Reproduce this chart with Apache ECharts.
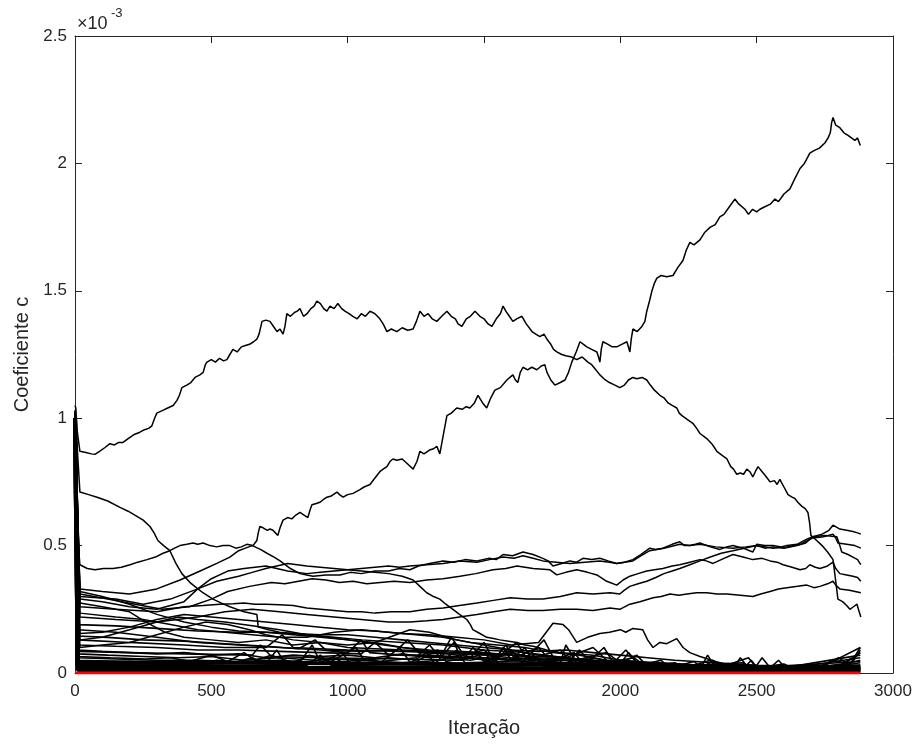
<!DOCTYPE html>
<html>
<head>
<meta charset="utf-8">
<script src="https://cdn.jsdelivr.net/npm/echarts@6/dist/echarts.min.js"></script>
<style>html,body{margin:0;padding:0;background:#fff}#c{width:920px;height:744px}</style>
</head>
<body>
<div id="c"></div>
<script>
// values in units of 1e-3 ; x = iteration
const xTicks = [0, 500, 1000, 1500, 2000, 2500, 3000];
const yTicks = [0, 0.5, 1, 1.5, 2, 2.5];

const lineA = [[0,1.05],[3,1.04],[8,0.95],[18,0.87],[40,0.865],[60,0.86],[73,0.858],[90,0.87],[110,0.885],[128,0.90],[145,0.895],[160,0.905],[176,0.905],[195,0.92],[215,0.935],[238,0.945],[255,0.955],[270,0.96],[282,0.97],[292,1.00],[300,1.02],[320,1.03],[340,1.04],[360,1.05],[374,1.07],[383,1.09],[392,1.12],[410,1.13],[425,1.14],[440,1.16],[458,1.17],[470,1.18],[478,1.21],[484,1.22],[500,1.23],[515,1.22],[530,1.235],[545,1.225],[557,1.23],[568,1.25],[579,1.27],[595,1.26],[610,1.28],[625,1.285],[640,1.29],[655,1.30],[667,1.31],[675,1.33],[686,1.38],[700,1.385],[715,1.38],[728,1.36],[741,1.34],[752,1.35],[763,1.33],[770,1.36],[777,1.41],[790,1.40],[805,1.415],[815,1.42],[825,1.43],[838,1.40],[851,1.41],[865,1.43],[877,1.44],[887,1.46],[900,1.45],[912,1.43],[924,1.42],[935,1.44],[950,1.43],[964,1.45],[978,1.43],[990,1.42],[1005,1.41],[1019,1.40],[1035,1.39],[1050,1.41],[1065,1.40],[1082,1.42],[1100,1.41],[1118,1.39],[1130,1.37],[1144,1.34],[1160,1.35],[1180,1.34],[1200,1.355],[1220,1.345],[1240,1.35],[1252,1.38],[1265,1.42],[1280,1.40],[1295,1.41],[1310,1.39],[1327,1.38],[1345,1.40],[1364,1.42],[1380,1.40],[1395,1.39],[1405,1.37],[1419,1.36],[1435,1.39],[1450,1.40],[1467,1.42],[1485,1.40],[1500,1.39],[1515,1.37],[1529,1.36],[1545,1.39],[1560,1.41],[1570,1.44],[1580,1.42],[1593,1.40],[1606,1.38],[1620,1.39],[1639,1.40],[1655,1.37],[1676,1.34],[1690,1.33],[1705,1.32],[1720,1.33],[1731,1.31],[1745,1.29],[1755,1.27],[1767,1.26],[1785,1.25],[1800,1.245],[1822,1.24],[1840,1.23],[1860,1.24],[1881,1.22],[1895,1.21],[1910,1.19],[1925,1.17],[1945,1.15],[1960,1.14],[1980,1.13],[1998,1.12],[2015,1.13],[2030,1.15],[2046,1.16],[2060,1.155],[2080,1.16],[2097,1.15],[2110,1.13],[2125,1.11],[2145,1.09],[2160,1.08],[2175,1.06],[2190,1.05],[2207,1.04],[2216,1.02],[2226,1.01],[2245,0.995],[2266,0.98],[2280,0.96],[2292,0.94],[2305,0.93],[2317,0.92],[2335,0.90],[2345,0.885],[2354,0.87],[2372,0.855],[2391,0.84],[2405,0.81],[2415,0.80],[2427,0.78],[2440,0.785],[2452,0.78],[2464,0.80],[2475,0.79],[2486,0.77],[2495,0.79],[2505,0.81],[2520,0.79],[2535,0.77],[2549,0.75],[2565,0.755],[2575,0.74],[2585,0.76],[2600,0.73],[2615,0.70],[2630,0.69],[2640,0.685],[2651,0.67],[2665,0.655],[2678,0.645],[2688,0.63],[2694,0.59],[2699,0.54],[2720,0.52],[2740,0.50],[2760,0.475],[2780,0.445],[2790,0.36],[2798,0.29],[2815,0.28],[2830,0.265],[2842,0.25],[2855,0.26],[2868,0.27],[2876,0.24],[2882,0.22]];
const lineB = [[0,1.03],[5,0.60],[18,0.425],[45,0.41],[73,0.405],[105,0.41],[139,0.41],[170,0.415],[202,0.425],[230,0.435],[264,0.445],[295,0.455],[323,0.47],[348,0.48],[365,0.49],[385,0.50],[410,0.505],[433,0.51],[450,0.505],[470,0.51],[495,0.50],[520,0.495],[543,0.50],[568,0.50],[590,0.49],[610,0.495],[630,0.505],[653,0.50],[660,0.51],[667,0.52],[672,0.55],[678,0.575],[690,0.57],[705,0.56],[715,0.565],[726,0.56],[735,0.55],[744,0.54],[752,0.57],[763,0.60],[780,0.61],[795,0.605],[810,0.62],[825,0.63],[840,0.62],[854,0.61],[862,0.64],[869,0.66],[885,0.665],[898,0.67],[910,0.68],[924,0.69],[940,0.695],[961,0.71],[970,0.70],[983,0.69],[1000,0.70],[1020,0.705],[1045,0.72],[1060,0.73],[1082,0.74],[1100,0.765],[1118,0.79],[1130,0.80],[1144,0.81],[1155,0.83],[1166,0.84],[1180,0.835],[1200,0.84],[1220,0.82],[1240,0.80],[1254,0.83],[1265,0.87],[1280,0.86],[1300,0.875],[1315,0.88],[1327,0.89],[1338,0.86],[1350,0.93],[1364,1.01],[1380,1.02],[1400,1.04],[1420,1.035],[1435,1.045],[1448,1.04],[1465,1.06],[1478,1.09],[1495,1.06],[1510,1.04],[1525,1.08],[1540,1.11],[1560,1.12],[1584,1.15],[1595,1.16],[1606,1.17],[1615,1.15],[1624,1.14],[1633,1.18],[1643,1.20],[1660,1.19],[1675,1.20],[1694,1.19],[1710,1.205],[1723,1.21],[1731,1.18],[1745,1.15],[1760,1.13],[1780,1.14],[1797,1.15],[1810,1.18],[1822,1.22],[1838,1.26],[1852,1.30],[1865,1.29],[1877,1.28],[1895,1.27],[1914,1.26],[1920,1.24],[1925,1.22],[1930,1.27],[1936,1.30],[1955,1.29],[1970,1.28],[1987,1.28],[2005,1.29],[2024,1.30],[2035,1.26],[2040,1.31],[2046,1.35],[2062,1.34],[2079,1.36],[2090,1.38],[2097,1.42],[2107,1.46],[2116,1.50],[2125,1.53],[2134,1.55],[2150,1.56],[2170,1.555],[2193,1.56],[2210,1.59],[2230,1.62],[2242,1.66],[2255,1.69],[2270,1.68],[2292,1.70],[2310,1.73],[2330,1.75],[2348,1.76],[2365,1.79],[2380,1.80],[2400,1.83],[2420,1.86],[2435,1.84],[2457,1.82],[2470,1.80],[2485,1.82],[2500,1.81],[2512,1.82],[2530,1.83],[2550,1.84],[2567,1.86],[2580,1.85],[2600,1.88],[2622,1.90],[2640,1.94],[2659,1.98],[2675,2.00],[2695,2.04],[2710,2.05],[2730,2.06],[2750,2.08],[2762,2.10],[2770,2.12],[2775,2.16],[2780,2.18],[2790,2.15],[2805,2.14],[2820,2.12],[2835,2.11],[2842,2.11],[2860,2.09],[2870,2.10],[2880,2.07]];
const lineC = [[0,1.03],[18,0.71],[50,0.70],[81,0.69],[120,0.675],[165,0.65],[195,0.635],[227,0.615],[250,0.60],[275,0.575],[290,0.55],[304,0.52],[325,0.50],[348,0.48],[370,0.43],[392,0.39],[422,0.355],[445,0.335],[469,0.315],[506,0.29],[535,0.275],[568,0.26],[620,0.24],[667,0.23],[672,0.18],[710,0.17],[750,0.16],[800,0.155],[850,0.15],[925,0.14],[1000,0.13],[1100,0.115],[1200,0.10],[1300,0.085],[1400,0.07],[1500,0.06],[1600,0.05],[1800,0.03],[2000,0.02],[2400,0.01],[2880,0.005]];
const lineG = [[0,1.02],[18,0.33],[100,0.32],[200,0.31],[300,0.33],[385,0.365],[469,0.405],[520,0.43],[568,0.455],[600,0.48],[625,0.49],[650,0.50],[680,0.485],[704,0.47],[730,0.455],[752,0.44],[790,0.41],[825,0.39],[850,0.385],[873,0.38],[920,0.385],[972,0.385],[1010,0.395],[1050,0.39],[1100,0.40],[1150,0.40],[1190,0.41],[1228,0.405],[1260,0.42],[1300,0.43],[1350,0.44],[1390,0.435],[1430,0.445],[1474,0.44],[1520,0.45],[1545,0.445],[1570,0.465],[1605,0.46],[1643,0.475],[1680,0.465],[1716,0.45],[1735,0.44],[1753,0.42],[1785,0.43],[1815,0.44],[1840,0.435],[1863,0.45],[1895,0.445],[1925,0.45],[1955,0.44],[1987,0.43],[2015,0.435],[2046,0.445],[2075,0.465],[2108,0.49],[2130,0.485],[2156,0.49],[2190,0.505],[2218,0.515],[2235,0.50],[2255,0.50],[2275,0.505],[2292,0.51],[2330,0.495],[2365,0.485],[2390,0.495],[2413,0.50],[2450,0.49],[2486,0.475],[2500,0.505],[2530,0.50],[2560,0.50],[2590,0.495],[2611,0.50],[2648,0.505],[2684,0.525],[2706,0.535],[2740,0.545],[2765,0.56],[2780,0.58],[2805,0.565],[2830,0.56],[2853,0.555],[2870,0.55],[2882,0.545]];
const lineI = [[0,1.02],[18,0.30],[150,0.29],[250,0.27],[350,0.29],[450,0.33],[520,0.36],[600,0.38],[650,0.395],[700,0.41],[740,0.42],[780,0.43],[850,0.42],[900,0.415],[950,0.41],[1000,0.405],[1050,0.40],[1100,0.395],[1150,0.39],[1200,0.38],[1240,0.365],[1265,0.34],[1290,0.315],[1315,0.30],[1338,0.29],[1360,0.27],[1386,0.25],[1410,0.23],[1437,0.21],[1450,0.19],[1459,0.17],[1485,0.155],[1510,0.14],[1535,0.135],[1558,0.13],[1590,0.125],[1621,0.12],[1650,0.11],[1680,0.105],[1730,0.09],[1778,0.08],[1840,0.075],[1900,0.07],[2000,0.05],[2100,0.04],[2200,0.03],[2350,0.025],[2500,0.02],[2700,0.02],[2880,0.02]];
const lineE4 = [[0,1.02],[18,0.31],[120,0.29],[220,0.27],[320,0.25],[420,0.26],[500,0.29],[560,0.32],[640,0.34],[720,0.355],[770,0.35],[820,0.36],[870,0.37],[920,0.365],[970,0.355],[1020,0.36],[1070,0.35],[1120,0.355],[1170,0.36],[1228,0.355],[1290,0.365],[1350,0.37],[1412,0.38],[1470,0.39],[1533,0.405],[1580,0.41],[1621,0.42],[1680,0.41],[1742,0.405],[1767,0.385],[1800,0.395],[1840,0.405],[1880,0.395],[1914,0.385],[1950,0.36],[1987,0.345],[2010,0.365],[2035,0.38],[2065,0.39],[2097,0.40],[2125,0.405],[2156,0.41],[2190,0.42],[2218,0.425],[2255,0.435],[2292,0.445],[2315,0.44],[2340,0.43],[2380,0.45],[2413,0.465],[2450,0.455],[2486,0.445],[2520,0.45],[2549,0.44],[2575,0.435],[2597,0.425],[2630,0.415],[2659,0.405],[2680,0.41],[2695,0.425],[2715,0.415],[2732,0.41],[2760,0.42],[2780,0.435],[2790,0.41],[2805,0.39],[2830,0.385],[2853,0.38],[2870,0.375],[2882,0.36]];
const lineF = [[0,1.02],[18,0.26],[150,0.25],[300,0.24],[400,0.26],[470,0.265],[532,0.27],[580,0.272],[620,0.275],[660,0.27],[700,0.27],[750,0.268],[800,0.265],[850,0.255],[900,0.25],[950,0.245],[1000,0.24],[1050,0.24],[1100,0.235],[1160,0.24],[1228,0.24],[1290,0.25],[1350,0.255],[1410,0.265],[1474,0.275],[1535,0.285],[1596,0.295],[1660,0.29],[1716,0.29],[1780,0.30],[1840,0.315],[1900,0.31],[1962,0.315],[1998,0.31],[2015,0.325],[2035,0.34],[2065,0.35],[2097,0.36],[2130,0.375],[2160,0.39],[2190,0.40],[2218,0.41],[2255,0.425],[2292,0.44],[2330,0.455],[2370,0.47],[2413,0.48],[2455,0.49],[2500,0.50],[2530,0.49],[2560,0.495],[2600,0.49],[2648,0.50],[2680,0.51],[2706,0.535],[2750,0.54],[2794,0.535],[2805,0.50],[2812,0.475],[2835,0.465],[2853,0.455],[2870,0.445],[2882,0.425]];
const lineE2 = [[0,1.02],[18,0.29],[100,0.28],[200,0.26],[300,0.25],[400,0.28],[450,0.33],[500,0.37],[560,0.40],[620,0.41],[660,0.415],[700,0.42],[740,0.41],[780,0.40],[850,0.39],[900,0.395],[950,0.40],[1000,0.405],[1050,0.41],[1100,0.415],[1150,0.42],[1190,0.415],[1228,0.42],[1290,0.425],[1350,0.43],[1410,0.44],[1474,0.435],[1520,0.445],[1570,0.455],[1610,0.45],[1643,0.46],[1680,0.45],[1716,0.44],[1765,0.435],[1815,0.43],[1870,0.435],[1925,0.44],[1960,0.435],[1987,0.43],[2015,0.435],[2046,0.44],[2075,0.46],[2108,0.48],[2160,0.49],[2218,0.505],[2255,0.50],[2292,0.505],[2350,0.495],[2413,0.49],[2460,0.495],[2500,0.50],[2560,0.49],[2611,0.495],[2660,0.505],[2706,0.53],[2745,0.535],[2780,0.545],[2790,0.53],[2798,0.51],[2830,0.505],[2860,0.50],[2882,0.49]];
const lineE5 = [[0,1.02],[18,0.22],[150,0.21],[300,0.20],[450,0.22],[550,0.24],[650,0.25],[750,0.24],[850,0.23],[950,0.22],[1050,0.21],[1150,0.20],[1228,0.20],[1290,0.205],[1350,0.21],[1410,0.22],[1474,0.23],[1535,0.24],[1596,0.25],[1660,0.245],[1716,0.245],[1780,0.25],[1840,0.25],[1900,0.245],[1962,0.255],[1998,0.25],[2035,0.27],[2072,0.28],[2120,0.295],[2150,0.30],[2182,0.31],[2215,0.305],[2244,0.31],[2280,0.315],[2317,0.315],[2355,0.31],[2391,0.31],[2440,0.305],[2486,0.30],[2515,0.31],[2549,0.32],[2580,0.33],[2611,0.335],[2650,0.34],[2684,0.345],[2710,0.335],[2732,0.34],[2760,0.35],[2780,0.36],[2790,0.345],[2805,0.33],[2840,0.325],[2882,0.315]];
const lineL1 = [[0,1.0],[18,0.32],[100,0.30],[200,0.27],[300,0.23],[400,0.20],[500,0.18],[600,0.165],[700,0.16],[800,0.15],[900,0.14],[1000,0.13],[1100,0.12],[1228,0.17],[1300,0.16],[1400,0.13],[1500,0.11],[1600,0.09],[1700,0.07],[1900,0.05],[2200,0.03],[2500,0.02],[2880,0.015]];
const lineL2 = [[0,1.0],[18,0.275],[100,0.26],[200,0.24],[260,0.20],[330,0.16],[400,0.14],[500,0.13],[600,0.12],[700,0.13],[800,0.11],[900,0.12],[1000,0.10],[1200,0.09],[1400,0.08],[1600,0.06],[1800,0.05],[2000,0.04],[2400,0.02],[2880,0.01]];
const lineL3 = [[0,1.0],[18,0.155],[100,0.16],[200,0.18],[300,0.21],[400,0.23],[500,0.22],[600,0.21],[700,0.20],[800,0.19],[900,0.18],[1000,0.17],[1100,0.165],[1200,0.155],[1300,0.15],[1400,0.14],[1500,0.13],[1600,0.11],[1700,0.12],[1753,0.195],[1790,0.19],[1810,0.17],[1840,0.12],[1880,0.14],[1925,0.155],[1960,0.16],[2000,0.17],[2020,0.16],[2046,0.175],[2082,0.17],[2100,0.13],[2120,0.10],[2145,0.12],[2170,0.115],[2207,0.135],[2230,0.10],[2255,0.08],[2292,0.065],[2350,0.045],[2400,0.03],[2600,0.02],[2880,0.02]];
const lineL4 = [[0,1.0],[18,0.13],[100,0.14],[200,0.17],[300,0.20],[380,0.22],[450,0.21],[550,0.20],[650,0.185],[750,0.17],[850,0.15],[950,0.14],[1050,0.13],[1200,0.12],[1350,0.11],[1500,0.09],[1650,0.08],[1800,0.06],[2000,0.04],[2400,0.02],[2880,0.01]];
const lineL5 = [[0,1.0],[18,0.10],[100,0.11],[200,0.12],[300,0.15],[400,0.18],[480,0.20],[560,0.19],[640,0.17],[700,0.15],[800,0.13],[900,0.12],[1000,0.11],[1100,0.12],[1200,0.10],[1300,0.09],[1500,0.08],[1700,0.06],[1900,0.05],[2100,0.03],[2500,0.02],[2880,0.02]];
const lineL6 = [[0,1.0],[18,0.235],[150,0.22],[250,0.21],[350,0.19],[450,0.17],[550,0.16],[650,0.15],[750,0.14],[850,0.14],[950,0.16],[1050,0.17],[1150,0.16],[1250,0.15],[1350,0.14],[1450,0.12],[1550,0.11],[1650,0.10],[1750,0.08],[1850,0.07],[1950,0.05],[2100,0.04],[2300,0.03],[2880,0.02]];
const lineN1 = [[0,1.0],[10,0.09],[100,0.085],[200,0.08],[300,0.075],[400,0.08],[500,0.07],[600,0.075],[700,0.06],[800,0.07],[900,0.065],[1000,0.07],[1100,0.06],[1200,0.075],[1300,0.06],[1400,0.065],[1500,0.09],[1540,0.06],[1600,0.08],[1700,0.05],[1800,0.06],[1900,0.04],[2000,0.05],[2200,0.03],[2400,0.035],[2600,0.02],[2800,0.03],[2880,0.05]];
const lineN2 = [[0,1.0],[10,0.075],[120,0.07],[250,0.065],[380,0.06],[500,0.065],[620,0.05],[750,0.06],[880,0.05],[1000,0.055],[1120,0.045],[1250,0.06],[1300,0.11],[1340,0.06],[1450,0.05],[1560,0.07],[1620,0.12],[1660,0.05],[1800,0.04],[1950,0.08],[2000,0.04],[2200,0.02],[2500,0.03],[2520,0.06],[2550,0.02],[2800,0.02],[2880,0.08]];
const lineN3 = [[0,1.0],[10,0.06],[150,0.055],[300,0.05],[450,0.05],[600,0.045],[750,0.05],[900,0.04],[1050,0.05],[1200,0.04],[1350,0.05],[1400,0.09],[1430,0.04],[1580,0.045],[1700,0.10],[1750,0.04],[1900,0.03],[2050,0.06],[2100,0.02],[2300,0.02],[2340,0.05],[2380,0.015],[2600,0.015],[2880,0.06]];
const lineN4 = [[0,1.0],[10,0.05],[200,0.045],[400,0.04],[600,0.04],[800,0.035],[950,0.06],[1000,0.03],[1200,0.035],[1500,0.03],[1520,0.08],[1560,0.03],[1800,0.03],[1850,0.09],[1900,0.03],[2100,0.02],[2400,0.01],[2700,0.01],[2880,0.04]];
const lineN5 = [[0,1.0],[10,0.04],[300,0.035],[600,0.03],[850,0.03],[900,0.07],[940,0.03],[1150,0.025],[1450,0.025],[1650,0.03],[1680,0.07],[1720,0.025],[2000,0.02],[2450,0.015],[2480,0.05],[2510,0.01],[2880,0.03]];
const lineN6 = [[0,1.0],[10,0.03],[400,0.025],[800,0.02],[1200,0.02],[1600,0.02],[2000,0.015],[2400,0.01],[2880,0.02]];
const lineN7 = [[0,1.0],[10,0.02],[500,0.015],[1000,0.012],[1500,0.012],[2000,0.01],[2500,0.008],[2880,0.01]];
const lineN8 = [[0,1.0],[10,0.012],[800,0.008],[1600,0.006],[2400,0.005],[2880,0.006]];
const lineN9 = [[0,1.0],[10,0.11],[150,0.105],[300,0.10],[450,0.09],[600,0.09],[750,0.085],[900,0.08],[1050,0.075],[1100,0.12],[1150,0.07],[1300,0.07],[1450,0.06],[1500,0.12],[1530,0.06],[1650,0.05],[1780,0.09],[1820,0.04],[2000,0.03],[2200,0.025],[2450,0.04],[2470,0.015],[2700,0.02],[2850,0.04],[2880,0.09]];
const lineN10 = [[0,1.0],[10,0.13],[200,0.12],[400,0.11],[550,0.10],[700,0.10],[760,0.15],[800,0.10],[1000,0.09],[1200,0.085],[1350,0.08],[1380,0.14],[1420,0.08],[1600,0.07],[1800,0.06],[1900,0.10],[1950,0.05],[2150,0.04],[2300,0.03],[2320,0.07],[2350,0.02],[2600,0.02],[2880,0.07]];
const lineN11 = [[0,1.0],[10,0.17],[150,0.16],[300,0.14],[450,0.12],[600,0.11],[750,0.10],[900,0.09],[1000,0.08],[1050,0.13],[1080,0.08],[1200,0.07],[1400,0.06],[1600,0.05],[1650,0.10],[1680,0.04],[1900,0.035],[2100,0.03],[2400,0.02],[2880,0.03]];
const lineN12 = [[0,1.0],[10,0.19],[150,0.185],[300,0.175],[450,0.165],[600,0.16],[700,0.16],[800,0.155],[900,0.15],[1000,0.15],[1100,0.14],[1200,0.13],[1300,0.12],[1400,0.11],[1500,0.10],[1600,0.09],[1700,0.085],[1800,0.09],[1900,0.08],[2000,0.07],[2100,0.06],[2200,0.05],[2500,0.03],[2880,0.02]];
const lineN13 = [[0,1.0],[10,0.145],[120,0.14],[250,0.13],[400,0.125],[550,0.115],[700,0.105],[820,0.095],[880,0.13],[920,0.09],[1050,0.085],[1180,0.09],[1220,0.13],[1260,0.08],[1400,0.075],[1550,0.07],[1580,0.11],[1610,0.06],[1750,0.05],[1980,0.045],[2020,0.09],[2060,0.04],[2300,0.03],[2600,0.025],[2750,0.03],[2880,0.1]];
const lineN14 = [[0,1.0],[10,0.085],[200,0.08],[400,0.075],[650,0.07],[680,0.11],[720,0.065],[900,0.06],[1200,0.055],[1420,0.05],[1460,0.10],[1500,0.045],[1850,0.04],[2200,0.03],[2420,0.025],[2440,0.06],[2470,0.02],[2880,0.045]];
const lineN15 = [[0,1.0],[10,0.042],[600,0.04],[1200,0.036],[1800,0.032],[2200,0.026],[2600,0.02],[2880,0.026]];
const lineS1 = [[0,1.0],[10,0.045],[100,0.04],[200,0.045],[300,0.04],[400,0.05],[450,0.035],[520,0.05],[580,0.04],[650,0.06],[700,0.035],[740,0.09],[770,0.04],[830,0.05],[870,0.11],[900,0.04],[980,0.08],[1010,0.035],[1080,0.06],[1120,0.04],[1190,0.10],[1230,0.04],[1290,0.08],[1320,0.035],[1390,0.12],[1420,0.05],[1480,0.07],[1510,0.035],[1600,0.09],[1640,0.04],[1720,0.13],[1760,0.05],[1830,0.08],[1870,0.03],[1940,0.10],[1980,0.03],[2060,0.07],[2100,0.025],[2200,0.04],[2240,0.02],[2330,0.05],[2360,0.02],[2470,0.06],[2500,0.02],[2600,0.035],[2640,0.015],[2750,0.03],[2800,0.06],[2840,0.03],[2880,0.1]];
const lineS2 = [[0,1.0],[10,0.065],[130,0.06],[260,0.055],[350,0.06],[420,0.045],[500,0.07],[560,0.045],[620,0.08],[660,0.05],[720,0.07],[800,0.04],[860,0.07],[940,0.045],[1030,0.1],[1060,0.05],[1150,0.06],[1260,0.05],[1330,0.09],[1360,0.045],[1440,0.06],[1540,0.045],[1570,0.10],[1600,0.05],[1680,0.06],[1780,0.04],[1800,0.11],[1840,0.04],[1900,0.06],[2000,0.035],[2030,0.08],[2070,0.03],[2150,0.05],[2180,0.02],[2270,0.045],[2300,0.02],[2400,0.035],[2550,0.02],[2580,0.05],[2610,0.015],[2720,0.02],[2780,0.05],[2820,0.04],[2880,0.08]];
const redLine = [[0,0],[2880,0]];

const midLines = [lineA, lineB, lineC, lineG, lineI, lineE4, lineF, lineE2, lineE5, lineL1, lineL2, lineL3, lineL4, lineL5, lineL6];
const lowLines = [lineN1, lineN2, lineN3, lineN4, lineN5, lineN9, lineN10, lineN11, lineN12, lineN13, lineN14, lineS1, lineS2];
const floorLines = [lineN6, lineN7, lineN8, lineN15];

const FONT = '"Liberation Sans", Arial, sans-serif';
const AX = '#262626';

const series = [];
midLines.forEach(d => series.push({type:'line', data:d, showSymbol:false, silent:true, lineStyle:{color:'#000', width:1.5}, z:2}));
lowLines.forEach(d => series.push({type:'line', data:d, showSymbol:false, silent:true, lineStyle:{color:'#000', width:1.6}, z:2}));
floorLines.forEach(d => series.push({type:'line', data:d, showSymbol:false, silent:true, lineStyle:{color:'#000', width:4}, z:2}));
series.push({type:'line', data:redLine, showSymbol:false, silent:true, lineStyle:{color:'#ff0000', width:3}, z:5});

const axisCommon = {
  type:'value', splitLine:{show:false},
  axisLine:{show:true, onZero:false, lineStyle:{color:AX, width:1}},
  axisTick:{show:true, inside:true, length:7, lineStyle:{color:AX}},
};
const fmt = v => String(v);

const chart = echarts.init(document.getElementById('c'), null, {renderer:'canvas'});
chart.setOption({
  animation:false,
  backgroundColor:'#fff',
  grid:{left:75, right:27, top:36, bottom:71, containLabel:false},
  xAxis:[
    Object.assign({}, axisCommon, {min:xTicks[0], max:xTicks[xTicks.length-1], interval:500, position:'bottom',
      axisLabel:{color:AX, fontSize:17, fontFamily:FONT, margin:10, formatter:fmt},
      name:'Iteração', nameLocation:'middle', nameGap:45, nameTextStyle:{color:AX, fontSize:20, fontFamily:FONT}}),
    Object.assign({}, axisCommon, {min:xTicks[0], max:xTicks[xTicks.length-1], interval:500, position:'top', axisLabel:{show:false}})
  ],
  yAxis:[
    Object.assign({}, axisCommon, {min:yTicks[0], max:yTicks[yTicks.length-1], interval:0.5, position:'left',
      axisLabel:{color:AX, fontSize:17, fontFamily:FONT, margin:8, formatter:fmt},
      name:'Coeficiente c', nameLocation:'middle', nameGap:37, nameTextStyle:{color:AX, fontSize:20, fontFamily:FONT}}),
    Object.assign({}, axisCommon, {min:yTicks[0], max:yTicks[yTicks.length-1], interval:0.5, position:'right', axisLabel:{show:false}})
  ],
  graphic:[
    {type:'text', left:77, top:15, style:{text:'×10', fill:AX, font:'18px ' + FONT}},
    {type:'text', left:111, top:7, style:{text:'-3', fill:AX, font:'13px ' + FONT}}
  ],
  series: series
});
</script>
</body>
</html>
